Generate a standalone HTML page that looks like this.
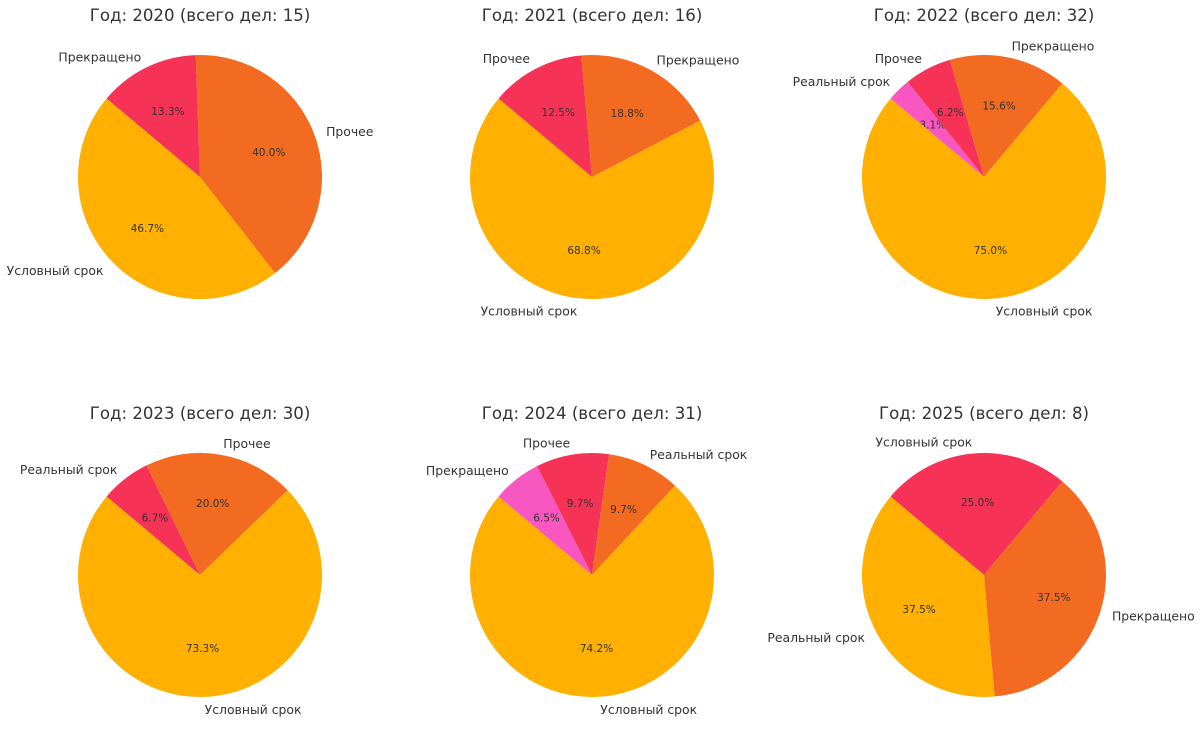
<!DOCTYPE html>
<html><head><meta charset="utf-8">
<style>
html,body{margin:0;padding:0;background:#fff;}
svg{display:block;font-family:"DejaVu Sans","Liberation Sans",sans-serif;}
</style></head>
<body>
<svg id="chart" width="1200" height="735" viewBox="0 0 1200 735"></svg>
<script>
const years = [2020, 2021, 2022, 2023, 2024, 2025];
const labels2020 = ["Прекращено", "Прочее", "Условный срок"];
const counts2020 = [2, 6, 7];
const labels2021 = ["Прочее", "Прекращено", "Условный срок"];
const counts2021 = [2, 3, 11];
const labels2022 = ["Реальный срок", "Прочее", "Прекращено", "Условный срок"];
const counts2022 = [1, 2, 5, 24];
const labels2023 = ["Реальный срок", "Прочее", "Условный срок"];
const counts2023 = [2, 6, 22];
const labels2024 = ["Прекращено", "Прочее", "Реальный срок", "Условный срок"];
const counts2024 = [2, 3, 3, 23];
const labels2025 = ["Условный срок", "Прекращено", "Реальный срок"];
const counts2025 = [2, 3, 3];
const allLabels = [labels2020, labels2021, labels2022, labels2023, labels2024, labels2025];
const allCounts = [counts2020, counts2021, counts2022, counts2023, counts2024, counts2025];
const palette3 = ["#F63257", "#F26B21", "#FFB000"];
const palette4 = ["#F857C1", "#F63257", "#F26B21", "#FFB000"];

const svg = document.getElementById('chart');
const NS = "http://www.w3.org/2000/svg";
const R = 122, startAngle = 140;
const centersX = [200, 592, 984];
const centersY = [177, 575];

function mk(tag, attrs){ const e = document.createElementNS(NS, tag); for (const k in attrs) e.setAttribute(k, attrs[k]); return e; }
function pt(cx, cy, r, deg){ const a = deg*Math.PI/180; return [cx + r*Math.cos(a), cy - r*Math.sin(a)]; }
function fmt(v){
  const t = v * 10; const f = Math.floor(t); const d = t - f;
  let r;
  if (Math.abs(d - 0.5) < 1e-9) r = (f % 2 === 0) ? f : f + 1; else r = Math.round(t);
  return (r / 10).toFixed(1);
}

years.forEach((yr, i) => {
  const cx = centersX[i % 3], cy = centersY[Math.floor(i / 3)];
  const counts = allCounts[i], labs = allLabels[i];
  const total = counts.reduce((a,b)=>a+b, 0);
  const pal = counts.length === 4 ? palette4 : palette3;
  const g = mk('g', {});
  
  
  svg.appendChild(g);
  const title = mk('text', {x: cx, y: i < 3 ? 21 : 419, 'text-anchor': 'middle', 'font-size': 16.6, fill: '#333'});
  title.textContent = 'Год: ' + yr + ' (всего дел: ' + total + ')';
  
  
  g.appendChild(title);
  let ang = startAngle;
  counts.forEach((c, j) => {
    const sweep = c / total * 360;
    const a0 = ang, a1 = ang - sweep;
    const p0 = pt(cx, cy, R, a0), p1 = pt(cx, cy, R, a1);
    const large = sweep > 180 ? 1 : 0;
    const path = mk('path', {d: `M${cx},${cy} L${p0[0]},${p0[1]} A${R},${R} 0 ${large} 1 ${p1[0]},${p1[1]} Z`, fill: pal[j]});
    
    
    g.appendChild(path);
    const mid = (a0 + a1) / 2;
    const lp = pt(cx, cy, R * 1.1, mid);
    const cosm = Math.cos(mid*Math.PI/180);
    const lt = mk('text', {x: lp[0], y: lp[1] + 5, 'text-anchor': cosm >= 0 ? 'start' : 'end', 'font-size': 12.4, fill: '#333'});
    lt.textContent = labs[j];
    
    
    g.appendChild(lt);
    const pp = pt(cx, cy, R * 0.6, mid);
    const pct = mk('text', {x: pp[0], y: pp[1] + 4, 'text-anchor': 'middle', 'font-size': 10.5, fill: '#333'});
    pct.textContent = fmt(c / total * 100) + '%';
    
    
    g.appendChild(pct);
    ang = a1;
  });
});
</script>
</body></html>
